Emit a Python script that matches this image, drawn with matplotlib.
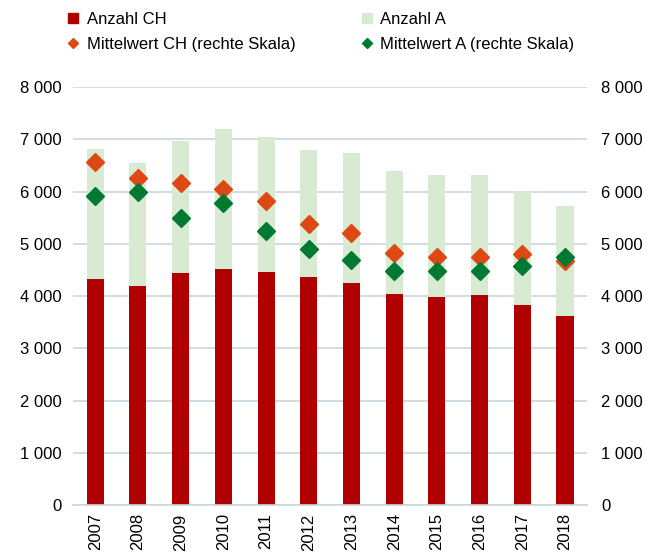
import numpy as np
import matplotlib
matplotlib.use("Agg")
import matplotlib.pyplot as plt
from matplotlib.lines import Line2D

plt.rcParams["font.family"] = ["Liberation Sans", "DejaVu Sans"]

years = ["2007", "2008", "2009", "2010", "2011", "2012",
         "2013", "2014", "2015", "2016", "2017", "2018"]
anzahl_ch = [4330, 4190, 4440, 4520, 4460, 4365, 4250, 4040, 3980, 4020, 3830, 3620]
anzahl_total = [6810, 6550, 6970, 7200, 7040, 6795, 6745, 6390, 6310, 6315, 6010, 5730]
anzahl_a = [t - c for t, c in zip(anzahl_total, anzahl_ch)]
mittel_ch = [6570, 6255, 6170, 6050, 5820, 5380, 5200, 4815, 4755, 4755, 4805, 4670]
mittel_a = [5915, 6000, 5490, 5775, 5235, 4900, 4690, 4485, 4480, 4485, 4580, 4740]

RED = "#B00000"
LGREEN = "#D9EAD3"
ORANGE = "#DD4814"
DGREEN = "#007A33"
GRID = "#C9D6DF"

fig = plt.figure(figsize=(6.46, 5.56), dpi=100)
ax = fig.add_axes([0.113, 0.0917, 0.796, 0.7518])
x = np.arange(len(years))

ax.bar(x, anzahl_ch, width=0.4, color=RED, zorder=2)
ax.bar(x, anzahl_a, width=0.4, bottom=anzahl_ch, color=LGREEN, zorder=2)

ax.set_ylim(0, 8000)
ax.set_xlim(-0.52, len(years) - 0.48)
ticks = np.arange(0, 8001, 1000)
ax.set_yticks(ticks)
ax.set_yticklabels([f"{t:,}".replace(",", " ") for t in ticks], fontsize=12)
ax.set_xticks(x)
ax.set_xticklabels(years, rotation=90, fontsize=12)
ax.tick_params(length=0, pad=8)
ax.tick_params(axis="x", pad=6)
ax.grid(axis="y", color=GRID, linewidth=1.2, zorder=0)
ax.set_axisbelow(True)
for s in ["top", "right", "left"]:
    ax.spines[s].set_visible(False)
ax.spines["bottom"].set_color(GRID)
ax.spines["bottom"].set_linewidth(1.2)

ax2 = ax.twinx()
ax2.set_ylim(0, 8000)
ax2.set_yticks(ticks)
ax2.set_yticklabels([f"{t:,}".replace(",", " ") for t in ticks], fontsize=12)
ax2.tick_params(length=0, pad=10)
for s in ax2.spines.values():
    s.set_visible(False)
ax2.plot(x, mittel_ch, linestyle="none", marker="D", ms=8.7, color=ORANGE, zorder=3)
ax2.plot(x, mittel_a, linestyle="none", marker="D", ms=8.7, color=DGREEN, zorder=4)

handles = [
    Line2D([], [], linestyle="none", marker="s", ms=7, color=RED, label="Anzahl CH"),
    Line2D([], [], linestyle="none", marker="D", ms=5, color=ORANGE, label="Mittelwert CH (rechte Skala)"),
    Line2D([], [], linestyle="none", marker="s", ms=7, color=LGREEN, label="Anzahl A"),
    Line2D([], [], linestyle="none", marker="D", ms=5, color=DGREEN, label="Mittelwert A (rechte Skala)"),
]
fig.legend(handles=handles, loc="upper left", bbox_to_anchor=(0.085, 1.0), ncol=2,
           frameon=False, fontsize=12, handlelength=0.8, handletextpad=0.4,
           columnspacing=3.9, labelspacing=0.6, borderaxespad=0.3)

fig.savefig("out.png", dpi=100)
